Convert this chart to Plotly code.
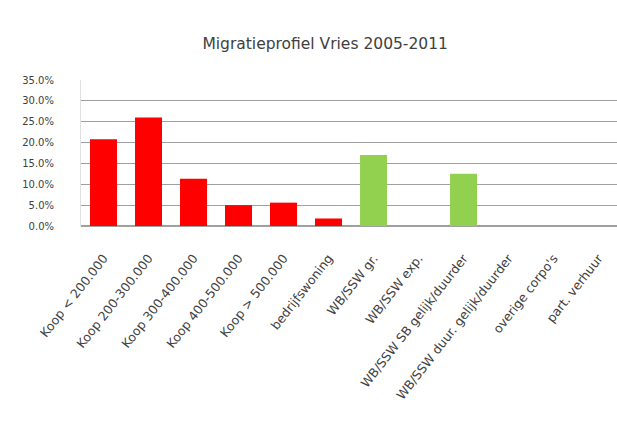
import plotly.graph_objects as go

categories = [
    "Koop < 200.000", "Koop 200-300.000", "Koop 300-400.000", "Koop 400-500.000",
    "Koop > 500.000", "bedrijfswoning", "WB/SSW gr.", "WB/SSW exp.",
    "WB/SSW SB gelijk/duurder", "WB/SSW duur. gelijk/duurder", "overige corpo's", "part. verhuur",
]
values = [0.208, 0.260, 0.113, 0.050, 0.056, 0.018, 0.170, 0.0, 0.125, 0.0, 0.0, 0.0]
colors = ["#ff0000"] * 6 + ["#92d050"] * 6
y_ticks = [0, 0.05, 0.10, 0.15, 0.20, 0.25, 0.30, 0.35]
y_labels = ["0.0%", "5.0%", "10.0%", "15.0%", "20.0%", "25.0%", "30.0%", "35.0%"]

fig = go.Figure(go.Bar(x=categories, y=values, marker=dict(color=colors, line=dict(width=0))))

fig.update_layout(
    width=617, height=427,
    margin=dict(l=81, r=0, t=80, b=201),
    paper_bgcolor="white", plot_bgcolor="white",
    bargap=0.4, showlegend=False,
    font=dict(family="DejaVu Sans, Liberation Sans, Arial", color="#404040", size=10),
    title=dict(text="Migratieprofiel Vries 2005-2011", x=0.527, xanchor="center", y=0.897, yanchor="middle",
               font=dict(size=15.5, color="#404040")),
)
fig.update_xaxes(range=[-0.5, 11.41], tickangle=-52, showgrid=False, showline=False,
                 tickfont=dict(size=12.5), ticks="outside", ticklen=19, tickcolor="rgba(0,0,0,0)")
fig.update_yaxes(range=[0, 0.35], tickvals=y_ticks, ticktext=y_labels, showgrid=True,
                 gridcolor="#a0a0a0", gridwidth=1, zeroline=True, zerolinecolor="#a0a0a0",
                 showline=True, linecolor="#e0e0e0", ticklabelstandoff=24, tickfont=dict(size=10))

fig.write_html("out.html")
